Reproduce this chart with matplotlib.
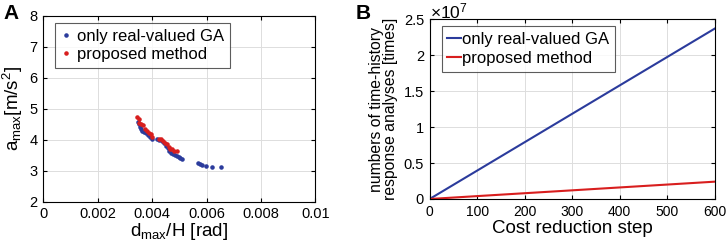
import numpy as np
import matplotlib.pyplot as plt
from matplotlib.ticker import FuncFormatter

# Panel A: Pareto-like points (d_max/H [rad], a_max [m/s^2])
ga_drift = [0.003493, 0.003529, 0.003566, 0.003603, 0.00364, 0.0037, 0.003775, 0.003848,
            0.003922, 0.003983, 0.004167, 0.004265, 0.004363, 0.004436, 0.004498, 0.004571,
            0.004632, 0.004681, 0.004755, 0.004828, 0.004902, 0.004975, 0.005037, 0.005098,
            0.005674, 0.00576, 0.005821, 0.00598, 0.006213, 0.00652]
ga_acc = [4.58, 4.505, 4.419, 4.355, 4.29, 4.247, 4.226, 4.161,
          4.075, 4.022, 4.011, 3.989, 3.946, 3.882, 3.806, 3.731,
          3.645, 3.559, 3.527, 3.495, 3.462, 3.43, 3.398, 3.366,
          3.258, 3.215, 3.183, 3.151, 3.129, 3.129]
prop_drift = [0.003456, 0.003505, 0.003529, 0.003603, 0.003676, 0.00375, 0.003824, 0.003885,
              0.003958, 0.003995, 0.00424, 0.004314, 0.004387, 0.00446, 0.004534, 0.004608,
              0.004657, 0.00473, 0.004804, 0.004902]
prop_acc = [4.742, 4.677, 4.527, 4.505, 4.462, 4.355, 4.29, 4.226,
            4.183, 4.075, 4.011, 4.022, 3.968, 3.903, 3.86, 3.753,
            3.71, 3.699, 3.634, 3.634]

# Panel B: number of time-history analyses vs cost reduction step
steps = [0, 600]
ga_count = [0, 2.37e7]
prop_count = [0, 2.41e6]

blue = '#2b3b9c'
red = '#d81e1e'

plt.rcParams['font.family'] = ['Liberation Sans', 'DejaVu Sans']
plt.rcParams['mathtext.fontset'] = 'custom'
plt.rcParams['mathtext.rm'] = 'Liberation Sans'
plt.rcParams['mathtext.it'] = 'Liberation Sans:italic'
fig = plt.figure(figsize=(7.26, 2.48), dpi=100)

# --- Panel A ---
ax1 = fig.add_axes([0.0597, 0.1867, 0.3747, 0.75])
ax1.plot(ga_drift, ga_acc, '.', color=blue, markersize=4.5, label='only real-valued GA')
ax1.plot(prop_drift, prop_acc, '.', color=red, markersize=4.5, label='proposed method')
ax1.set_xlim(0, 0.01)
ax1.set_ylim(2, 8)
ax1.set_xticks(np.arange(0, 0.0101, 0.002))
ax1.xaxis.set_major_formatter(FuncFormatter(lambda v, _: f'{round(v, 4):g}'))
ax1.set_yticks(range(2, 9))
ax1.set_xlabel(r'd$_{\mathrm{max}}$/H [rad]', fontsize=13.5, labelpad=0)
ax1.set_ylabel(r'a$_{\mathrm{max}}$[m/s$^2$]', fontsize=13.5, labelpad=3)
leg1 = ax1.legend(loc='upper left', fontsize=12, handlelength=0.6, handletextpad=0.4,
                  borderpad=0.35, labelspacing=0.2, fancybox=False, edgecolor='#333333',
                  bbox_to_anchor=(0.03, 0.98), borderaxespad=0.2)
leg1.get_frame().set_linewidth(0.8)
fig.text(0.005, 0.925, 'A', fontsize=15, fontweight='bold')

# --- Panel B ---
ax2 = fig.add_axes([0.5918, 0.1976, 0.3926, 0.7246])
ax2.plot(steps, ga_count, color=blue, linewidth=1.5, label='only real-valued GA')
ax2.plot(steps, prop_count, color=red, linewidth=1.5, label='proposed method')
ax2.set_xlim(0, 600)
ax2.set_ylim(0, 2.5e7)
ax2.set_xticks(range(0, 601, 100))
ax2.set_yticks(np.arange(0, 2.51e7, 0.5e7))
ax2.yaxis.set_major_formatter(FuncFormatter(lambda v, _: f'{v / 1e7:g}'))
fig.text(0.592, 0.925, r'$\times$10$^7$', fontsize=12.5, ha='left', va='baseline')
ax2.set_xlabel('Cost reduction step', fontsize=13.5, labelpad=1)
ax2.set_ylabel('numbers of time-history\nresponse analyses [times]', fontsize=11.3,
               labelpad=4, linespacing=0.95)
leg2 = ax2.legend(loc='upper left', fontsize=12, handlelength=0.8, handletextpad=0.1,
                  borderpad=0.35, labelspacing=0.25, fancybox=False, edgecolor='#333333',
                  bbox_to_anchor=(0.03, 0.98), borderaxespad=0.2)
leg2.get_frame().set_linewidth(0.8)
fig.text(0.49, 0.925, 'B', fontsize=15, fontweight='bold')

for ax in (ax1, ax2):
    ax.grid(True, color='#dddddd', linewidth=0.7)
    ax.set_axisbelow(True)
    ax.tick_params(direction='in', top=True, right=True, labelsize=10.5, length=3, pad=4)
    for s in ax.spines.values():
        s.set_linewidth(0.8)
ax2.tick_params(axis='x', labelsize=10)

fig.savefig('out.png', dpi=100)
